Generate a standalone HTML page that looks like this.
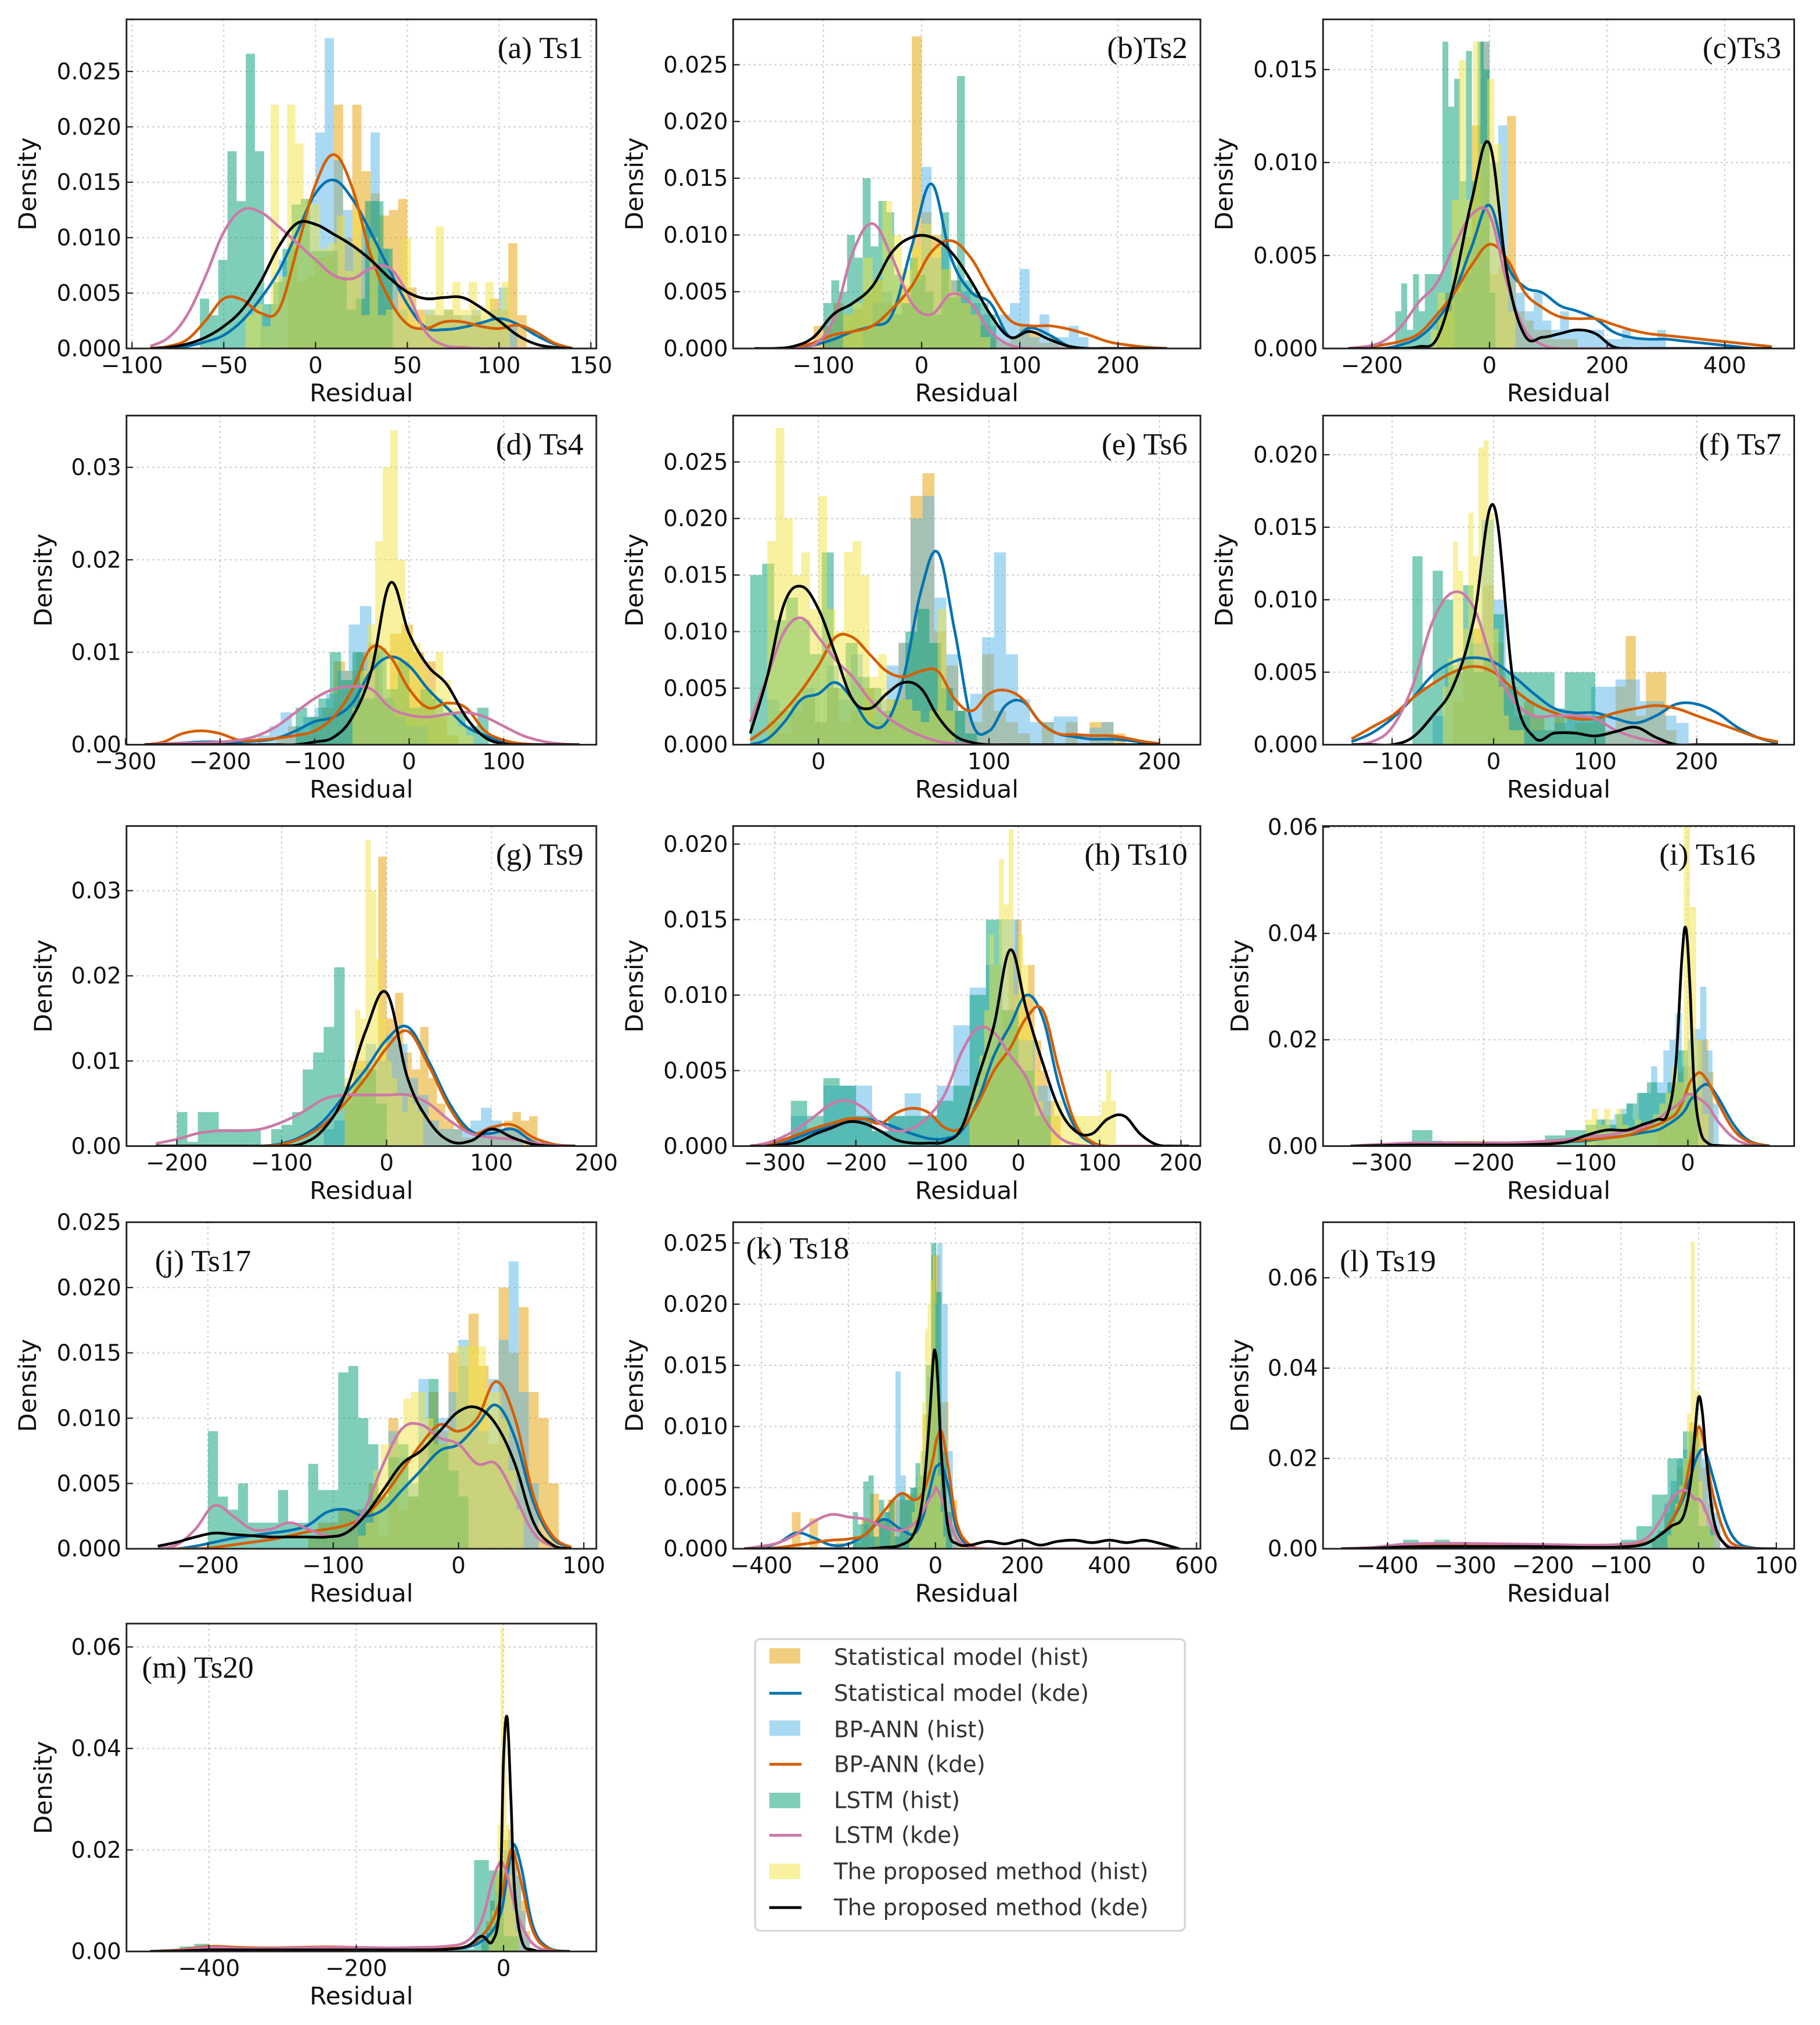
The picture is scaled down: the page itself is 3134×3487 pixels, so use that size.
<!DOCTYPE html>
<html><head><meta charset="utf-8"><title>Residual density distributions by time series</title>
<style>
html,body{margin:0;padding:0;background:#fff;}
svg{display:block;}
text{font-family:"DejaVu Sans","Liberation Sans",sans-serif;}
.ttl{font-family:"Liberation Serif",serif;}
</style></head>
<body>
<svg id="fig" xmlns="http://www.w3.org/2000/svg" width="3134" height="3487" viewBox="0 0 1410 1569" preserveAspectRatio="none">
<rect x="0" y="0" width="1410" height="1569" fill="#fff"/>
<g id="panels"></g>
<g id="legend">
  <rect x="585" y="1270" width="333" height="226" rx="4" fill="#fff" stroke="#d6d6d6" stroke-width="1.5"/>
  <g><rect x="596" y="1277" width="24" height="12" fill="#E69F00" fill-opacity="0.5"/><text x="646" y="1290" font-size="17.5" fill="#333">Statistical model (hist)</text></g>
  <g><line x1="596" x2="621" y1="1312" y2="1312" stroke="#0072B2" stroke-width="2.2"/><text x="646" y="1318" font-size="17.5" fill="#333">Statistical model (kde)</text></g>
  <g><rect x="596" y="1333" width="24" height="12" fill="#56B4E9" fill-opacity="0.5"/><text x="646" y="1346" font-size="17.5" fill="#333">BP-ANN (hist)</text></g>
  <g><line x1="596" x2="621" y1="1367" y2="1367" stroke="#D55E00" stroke-width="2.2"/><text x="646" y="1373" font-size="17.5" fill="#333">BP-ANN (kde)</text></g>
  <g><rect x="596" y="1389" width="24" height="12" fill="#009E73" fill-opacity="0.5"/><text x="646" y="1401" font-size="17.5" fill="#333">LSTM (hist)</text></g>
  <g><line x1="596" x2="621" y1="1422" y2="1422" stroke="#CC79A7" stroke-width="2.2"/><text x="646" y="1428" font-size="17.5" fill="#333">LSTM (kde)</text></g>
  <g><rect x="596" y="1444" width="24" height="12" fill="#F0E442" fill-opacity="0.5"/><text x="646" y="1456" font-size="17.5" fill="#333">The proposed method (hist)</text></g>
  <g><line x1="596" x2="621" y1="1478" y2="1478" stroke="#000" stroke-width="2.2"/><text x="646" y="1484" font-size="17.5" fill="#333">The proposed method (kde)</text></g>
</g>
</svg>
<script>
// ===== DATA (kde grids, kde values, histogram bins/heights) =====
// (a) Ts1
const a_kx=[-90,-80,-70,-60,-50,-40,-30,-20,-10,0,10,20,30,40,50,60,70,80,90,100,110,120,130,140];
const a_k_stat=[0,0,0.0002,0.0006,0.0012,0.0025,0.0045,0.007,0.0105,0.014,0.0152,0.0135,0.0105,0.0072,0.004,0.0019,0.0017,0.0019,0.0023,0.0027,0.0022,0.0012,0.0004,0];
const a_k_bp=[0,0.0002,0.0008,0.0025,0.0045,0.0044,0.0032,0.0035,0.009,0.0148,0.0175,0.0145,0.0085,0.0045,0.0022,0.0018,0.0024,0.0024,0.002,0.0018,0.0021,0.0015,0.0005,0];
const a_k_lstm=[0.0002,0.001,0.003,0.0065,0.0105,0.0125,0.0123,0.011,0.0095,0.008,0.0066,0.0063,0.0072,0.0073,0.005,0.0015,0.0003,0.0001,0,0,0,0,0,0];
const a_k_prop=[0,0.0001,0.0004,0.001,0.002,0.0035,0.006,0.0092,0.0113,0.0112,0.0103,0.0093,0.008,0.0064,0.0051,0.0045,0.0046,0.0046,0.0037,0.0025,0.0012,0.0004,0.0001,0];
const a_bins=[[-30,5],[-50,5],[-63,5],[-38,4.5]];
const a_h_stat=[0,0,0,0.0095,0.006,0.0065,0.0082,0.0085,0.022,0.01,0.022,0.016,0.014,0.012,0.0125,0.0135,0.0055,0.0035,0.003,0.003,0.0035,0.003,0.0025,0.003,0.0025,0.0045,0.0035,0.0095,0.003,0];
const a_h_bp=[0,0,0,0,0.003,0.004,0.008,0.009,0.0115,0.0135,0.0195,0.028,0.017,0.0125,0.009,0.011,0.0195,0.009,0.006,0.0035,0.002,0.002,0.0035,0.003,0.0035,0.003,0.003,0.0035,0.0025,0.0035,0.0055,0.002];
const a_h_lstm=[0.0045,0.003,0.008,0.0178,0.0133,0.0266,0.0178,0.004,0.006,0.009,0.013,0.0135,0.0088,0.0088,0.0088,0.0065,0.0035,0.0045,0.0133,0.0133,0.009,0];
const a_h_prop=[0.003,0.004,0.002,0.022,0.0065,0.022,0.0185,0.0135,0.013,0.009,0.0095,0.012,0.007,0.0125,0.003,0.01,0.003,0.0035,0.0035,0.01,0.0025,0.003,0.0035,0.011,0.0035,0.006,0.0035,0.006,0.0035,0.006,0.0035,0.006,0];
// (b) Ts2
const b_kx=[-170,-150,-130,-110,-90,-70,-50,-30,-10,10,30,50,70,90,110,130,150,170,190,210,230,250];
const b_k_stat=[0,0,0.0001,0.0003,0.0008,0.0015,0.002,0.003,0.009,0.0145,0.008,0.005,0.004,0.001,0.0018,0.0012,0.0002,0,0,0,0,0];
const b_k_bp=[0,0,0.0001,0.0005,0.0012,0.0015,0.002,0.0035,0.0055,0.0085,0.0095,0.008,0.005,0.0025,0.002,0.002,0.0017,0.0012,0.0006,0.0003,0.0001,0];
const b_k_lstm=[0,0,0,0.0003,0.0025,0.0085,0.011,0.008,0.004,0.003,0.0048,0.004,0.0015,0.0003,0,0,0,0,0,0,0,0];
const b_k_prop=[0,0,0.0002,0.001,0.003,0.004,0.0055,0.0085,0.0098,0.0098,0.0085,0.006,0.003,0.001,0.0015,0.0008,0.0002,0,0,0,0,0];
const b_bins=[[-110,10],[-60,10],[-100,8],[-80,10]];
const b_h_stat=[0.002,0.002,0.004,0.003,0.0035,0.005,0.006,0.004,0.003,0.0055,0.0275,0.012,0.01,0.007,0.006,0.004,0.003,0.002,0.001,0.0005,0.001,0.002,0.0015,0.0005,0.001];
const b_h_bp=[0.002,0.004,0.005,0.003,0.004,0.006,0.016,0.008,0.009,0.006,0.005,0.004,0.003,0.002,0.003,0.004,0.007,0.001,0.003,0.001,0.001,0.002,0.001];
const b_h_lstm=[0.004,0.006,0.005,0.01,0.008,0.015,0.009,0.013,0.012,0.0065,0.004,0.008,0.0065,0.005,0.003,0.012,0.0045,0.024,0.006,0.005,0.004,0.003];
const b_h_prop=[0.003,0.004,0.008,0.006,0.013,0.01,0.007,0.009,0.011,0.009,0.007,0.005,0.004,0.003,0.001];
// (c) Ts3
const c_kx=[-240,-210,-180,-150,-120,-90,-60,-30,0,30,60,90,120,150,180,210,240,270,300,330,360,390,420,450,480];
const c_k_stat=[0,0,0,0.0002,0.0006,0.0015,0.003,0.0055,0.0077,0.0045,0.0033,0.003,0.0023,0.002,0.0016,0.0009,0.0006,0.0005,0.0005,0.0004,0.0003,0.0002,0.0001,0,0];
const c_k_bp=[0,0.0001,0.0002,0.0004,0.0008,0.0018,0.003,0.0045,0.0056,0.0048,0.003,0.0022,0.0017,0.0016,0.0016,0.0013,0.001,0.0008,0.0007,0.0006,0.0005,0.0004,0.0003,0.0002,0.0001];
const c_k_lstm=[0,0.0001,0.0004,0.0012,0.0025,0.0035,0.0055,0.0072,0.0072,0.0035,0.001,0.0002,0,0,0,0,0,0,0,0,0,0,0,0,0];
const c_k_prop=[0,0,0,0,0.0001,0.0005,0.0035,0.008,0.011,0.004,0.0007,0.0006,0.0008,0.001,0.0008,0.0001,0,0,0,0,0,0,0,0,0];
const c_bins=[[-90,15],[-60,15],[-160,10],[-100,12]];
const c_h_stat=[0.002,0.003,0.004,0.006,0.012,0.0165,0.004,0.0045,0.0125,0.002,0.0015,0.001,0.001,0.0005,0.0005,0.0005];
const c_h_bp=[0.003,0.004,0.006,0.0165,0.01,0.012,0.004,0.003,0.002,0.003,0.0015,0.001,0.002,0.001,0.001,0.001,0.001,0.0005,0.0005,0.001,0.0005,0.0005,0.0005,0.001];
const c_h_lstm=[0.002,0.0035,0.001,0.004,0.002,0.004,0.004,0.004,0.0165,0.013,0.0145,0.009,0.016,0.009,0.0165,0.015,0.003];
const c_h_prop=[0.001,0.003,0.002,0.008,0.0155,0.008,0.0165,0.011,0.0145,0.011,0.005,0.002];
// (d) Ts4
const d_kx=[-280,-260,-240,-220,-200,-180,-160,-140,-120,-100,-80,-60,-40,-20,0,20,40,60,80,100,120,140,160,180];
const d_k_stat=[0,0,0.0002,0.0003,0.0003,0.0003,0.0004,0.0007,0.0015,0.0025,0.003,0.0045,0.008,0.0095,0.0085,0.006,0.004,0.002,0.001,0.0003,0.0001,0,0,0];
const d_k_bp=[0,0.0003,0.0012,0.0015,0.0012,0.0005,0.0005,0.0007,0.001,0.0015,0.003,0.006,0.0105,0.0095,0.006,0.004,0.0045,0.004,0.0015,0.0005,0.0001,0,0,0];
const d_k_lstm=[0,0.0001,0.0002,0.0002,0.0003,0.0005,0.001,0.002,0.0035,0.005,0.006,0.0063,0.006,0.004,0.0032,0.003,0.0033,0.0035,0.003,0.002,0.001,0.0004,0.0001,0];
const d_k_prop=[0,0,0,0,0,0,0,0,0,0.0003,0.0008,0.003,0.008,0.0175,0.012,0.0085,0.0065,0.003,0.0008,0.0001,0,0,0,0];
const d_bins=[[-140,12],[-160,12],[-120,12],[-60,8]];
const d_h_stat=[0.001,0.002,0.001,0.003,0.004,0.009,0.008,0.01,0.011,0.005,0.012,0.013,0.01,0.009,0.003,0.001,0];
const d_h_bp=[0.001,0.002,0.0035,0.002,0.003,0.004,0.0055,0.008,0.013,0.015,0.01,0.005,0.003,0.002,0.002];
const d_h_lstm=[0.004,0.003,0.005,0.01,0.007,0.01,0.005,0.0105,0.006,0.009,0.004,0.006,0.005,0.0035,0.0035,0.002,0.004];
const d_h_prop=[0.004,0.008,0.013,0.022,0.03,0.034,0.02,0.012,0.011,0.008,0.006,0.01,0.007,0.004,0.002,0.001];
// (e) Ts6
const e_kx=[-40,-30,-20,-10,0,10,20,30,40,50,60,70,80,90,100,110,120,130,140,150,160,170,180,190,200];
const e_k_stat=[0,0.0005,0.002,0.004,0.0045,0.0055,0.004,0.0018,0.002,0.006,0.0135,0.017,0.01,0.002,0.0012,0.0035,0.0038,0.002,0.001,0.0007,0.0005,0.0005,0.0004,0.0002,0];
const e_k_bp=[0.0004,0.0015,0.003,0.0048,0.007,0.0095,0.0095,0.008,0.0065,0.006,0.0065,0.0065,0.004,0.003,0.0045,0.0048,0.004,0.002,0.001,0.0009,0.0008,0.0008,0.0006,0.0003,0.0001];
const e_k_lstm=[0.002,0.006,0.01,0.0112,0.0095,0.0075,0.006,0.004,0.0025,0.0015,0.0008,0.0003,0.0001,0,0,0,0,0,0,0,0,0,0,0,0];
const e_k_prop=[0.001,0.006,0.0125,0.014,0.012,0.008,0.004,0.0032,0.0045,0.0055,0.005,0.0025,0.0008,0.0002,0,0,0,0,0,0,0,0,0,0,0];
const e_bins=[[-30,7],[-30,7],[-40,7],[-30,5]];
const e_h_stat=[0.002,0.001,0.003,0.004,0.002,0.005,0.002,0.003,0.005,0.002,0.004,0.009,0.022,0.024,0.01,0.007,0.003,0.002,0.008,0.003,0.002,0.001,0,0.002,0,0.002,0,0.002,0.002,0.001,0];
const e_h_bp=[0.004,0.003,0.004,0.005,0.002,0.007,0.004,0.008,0.002,0.004,0.007,0.009,0.02,0.022,0.013,0.008,0.003,0.0045,0.0095,0.017,0.008,0.004,0.002,0.002,0.0025,0.0025,0.001,0.0015,0.002];
const e_h_lstm=[0.015,0.016,0.011,0.013,0.011,0.008,0.017,0.005,0.009,0.006,0.005,0.003,0.004,0.01,0.012,0.009,0.005,0.003,0.001];
const e_h_prop=[0.018,0.028,0.02,0.015,0.017,0.012,0.022,0.012,0.01,0.017,0.018,0.015,0.006,0.008,0.004,0.004,0.004,0.003,0.002,0.003,0.012,0.003];
// (f) Ts7
const f_kx=[-140,-120,-100,-80,-60,-40,-20,0,20,40,60,80,100,120,140,160,180,200,220,240,260,280];
const f_k_stat=[0.0002,0.0008,0.0018,0.0032,0.0048,0.0057,0.006,0.0057,0.0047,0.0035,0.0025,0.0022,0.0022,0.0018,0.0015,0.002,0.0028,0.0028,0.0022,0.0012,0.0005,0.0001];
const f_k_bp=[0.0004,0.0012,0.002,0.0032,0.0042,0.005,0.0054,0.005,0.0038,0.0028,0.0022,0.0018,0.0018,0.0022,0.0025,0.0027,0.0025,0.002,0.0015,0.001,0.0005,0.0002];
const f_k_lstm=[0,0.0002,0.0012,0.004,0.0085,0.0105,0.0095,0.0055,0.003,0.002,0.002,0.002,0.0018,0.001,0.0005,0.0002,0,0,0,0,0,0];
const f_k_prop=[0,0,0,0.0005,0.002,0.004,0.0085,0.0165,0.004,0.0005,0.0008,0.0008,0.0006,0.0009,0.0012,0.0005,0,0,0,0,0,0];
const f_bins=[[-40,10],[-60,12],[-80,10],[-50,5]];
const f_h_stat=[0.003,0.006,0.008,0.011,0.007,0.004,0.002,0.003,0.002,0.001,0.002,0.001,0.0015,0.0015,0.002,0.001,0.004,0.0075,0.002,0.005,0.005,0.001];
const f_h_bp=[0.002,0.0055,0.006,0.007,0.0155,0.01,0.004,0.002,0.001,0.001,0.0015,0.002,0.002,0.004,0.004,0.0045,0.0045,0.003,0.003,0.002,0.0015];
const f_h_lstm=[0.013,0.004,0.012,0.01,0.005,0.011,0.005,0.006,0.009,0.005,0.005,0.005,0.005,0.005,0.0025,0.005,0.005,0.005,0.002];
const f_h_prop=[0.004,0.006,0.014,0.012,0.008,0.016,0.013,0.0205,0.021,0.016,0.008,0.004,0.002,0.001,0.001,0.001];
// (g) Ts9
const g_kx=[-220,-200,-180,-160,-140,-120,-100,-80,-60,-40,-20,0,20,40,60,80,100,120,140,160,180];
const g_k_stat=[0,0,0,0,0,0,0.0003,0.0012,0.003,0.006,0.009,0.0125,0.014,0.01,0.005,0.0018,0.0015,0.002,0.0005,0.0001,0];
const g_k_bp=[0,0,0,0,0,0,0.0002,0.001,0.0025,0.005,0.008,0.0115,0.0135,0.0095,0.0045,0.0015,0.0022,0.0025,0.001,0.0002,0];
const g_k_lstm=[0.0003,0.0008,0.0015,0.0018,0.0018,0.002,0.0028,0.004,0.0055,0.006,0.006,0.006,0.006,0.005,0.003,0.0015,0.001,0.0008,0.0004,0.0001,0];
const g_k_prop=[0,0,0,0,0,0,0,0.0003,0.002,0.006,0.0135,0.018,0.008,0.003,0.0006,0.0006,0.002,0.001,0.0002,0,0];
const g_bins=[[-40,8],[-60,10],[-200,10],[-40,5]];
const g_h_stat=[0.005,0.01,0.01,0.009,0.034,0.015,0.018,0.011,0.009,0.014,0.008,0.005,0.003,0.002,0.001,0.001,0.001,0.002,0.002,0.003,0.004,0.003,0.0035];
const g_h_bp=[0.002,0.003,0.006,0.009,0.012,0.01,0.013,0.012,0.008,0.006,0.003,0.002,0.002,0.002,0.003,0.0045,0.003,0.002,0.002];
const g_h_lstm=[0.004,0.0005,0.004,0.004,0.002,0.002,0.002,0.002,0,0.002,0.0025,0.004,0.009,0.011,0.014,0.021,0.007,0.008,0.009,0.005];
const g_h_prop=[0.008,0.01,0.016,0.015,0.036,0.03,0.022,0.015,0.01,0.008,0.006,0.004,0.006,0.005,0.004];
// (h) Ts10
const h_kx=[-330,-310,-290,-270,-250,-230,-210,-190,-170,-150,-130,-110,-90,-70,-50,-30,-10,10,30,50,70,90,110,130,150,170,190,210];
const h_k_stat=[0,0,0.0002,0.0006,0.001,0.0013,0.0016,0.0018,0.0016,0.0012,0.0008,0.0005,0.0005,0.001,0.003,0.006,0.008,0.01,0.0085,0.004,0.0012,0.0002,0,0,0,0,0,0];
const h_k_bp=[0,0.0001,0.0004,0.0008,0.0012,0.0015,0.0018,0.0018,0.0015,0.0022,0.0025,0.0022,0.0012,0.0012,0.0028,0.005,0.0065,0.0085,0.009,0.005,0.0015,0.0003,0,0,0,0,0,0];
const h_k_lstm=[0,0.0002,0.0006,0.0012,0.002,0.0028,0.003,0.0025,0.0015,0.001,0.0012,0.002,0.0035,0.0062,0.0078,0.0075,0.006,0.0045,0.002,0.0006,0.0001,0,0,0,0,0,0,0];
const h_k_prop=[0,0,0.0001,0.0003,0.0008,0.0012,0.0016,0.0015,0.001,0.0004,0.0002,0.0002,0.0003,0.0012,0.0045,0.008,0.013,0.009,0.0055,0.0025,0.001,0.0008,0.0018,0.002,0.0008,0.0001,0,0];
const h_bins=[[-60,8],[-280,20],[-280,20],[-60,6]];
const h_h_stat=[0.002,0.003,0.005,0.006,0.007,0.009,0.013,0.015,0.01,0.012,0.007,0.005,0.003,0.002];
const h_h_bp=[0.002,0.001,0.004,0.004,0.004,0.001,0.002,0.0035,0.002,0.004,0.008,0.0105,0.012,0.015,0.007,0.004];
const h_h_lstm=[0.003,0.002,0.0045,0.004,0.002,0.001,0.002,0.002,0.002,0.003,0.004,0.01,0.015,0.009,0.005,0.002];
const h_h_prop=[0.003,0.004,0.006,0.009,0.014,0.012,0.019,0.016,0.021,0.01,0.014,0.012,0.008,0.005,0.003,0.002,0.002,0.003,0.003,0.002,0.002,0.002,0.002,0.002,0.002,0.002,0.002,0.003,0.005,0.003];
// (i) Ts16
const i_kx=[-330,-300,-270,-240,-210,-180,-150,-120,-100,-80,-60,-45,-30,-20,-12,-6,-2,2,6,12,20,30,45,60,80];
const i_k_stat=[0,0.0003,0.0005,0.0006,0.0006,0.0006,0.0006,0.0008,0.001,0.0015,0.002,0.0025,0.003,0.004,0.005,0.006,0.007,0.0085,0.0095,0.011,0.0115,0.009,0.004,0.001,0];
const i_k_bp=[0,0.0003,0.0005,0.0006,0.0006,0.0006,0.0006,0.0008,0.0012,0.0015,0.002,0.003,0.004,0.005,0.006,0.008,0.01,0.012,0.013,0.0138,0.012,0.008,0.003,0.0008,0];
const i_k_lstm=[0,0.0003,0.0006,0.0006,0.0005,0.0006,0.0008,0.0012,0.0018,0.002,0.0028,0.0035,0.005,0.0065,0.0075,0.0085,0.0095,0.0098,0.0095,0.0088,0.0075,0.0045,0.0015,0.0003,0];
const i_k_prop=[0,0.0001,0.0002,0.0002,0.0002,0.0002,0.0003,0.0007,0.002,0.003,0.003,0.004,0.005,0.006,0.015,0.035,0.041,0.03,0.012,0.003,0.0005,0.0001,0,0,0];
const i_bins=[[-30,5],[-90,6],[-270,10],[-100,6]];
const i_h_stat=[0.003,0.005,0.008,0.012,0.014,0.01,0.015,0.01,0.02,0.02,0.014];
const i_h_bp=[0.004,0.005,0.005,0.006,0.007,0.008,0.005,0.01,0.01,0.015,0.012,0.018,0.02,0.025,0.015,0.02,0.022,0.03,0.018,0.008];
const i_h_lstm=[0.003,0.003,0.001,0,0,0,0,0,0,0,0,0.001,0.001,0.002,0.002,0.003,0.003,0.004,0.005,0.004,0.006,0.008,0.01,0.012,0.01,0.012,0.018,0.01];
const i_h_prop=[0.005,0.007,0.004,0.007,0.003,0.007,0.004,0.003,0.005,0.003,0.004,0.006,0.008,0.01,0.015,0.012,0.06,0.045,0.02,0.006];
// (j) Ts17
const j_kx=[-240,-225,-210,-195,-180,-165,-150,-135,-120,-105,-90,-75,-60,-45,-30,-15,0,15,30,45,60,75,90];
const j_k_stat=[0,0,0.0002,0.0005,0.0008,0.001,0.0012,0.0014,0.0018,0.0028,0.003,0.0025,0.003,0.0045,0.006,0.0075,0.008,0.0095,0.011,0.0085,0.0035,0.0008,0.0001];
const j_k_bp=[0,0,0,0.0001,0.0003,0.0005,0.0007,0.001,0.0013,0.0015,0.0018,0.0025,0.004,0.006,0.008,0.0095,0.009,0.01,0.0128,0.01,0.004,0.001,0.0001];
const j_k_lstm=[0,0.0003,0.0015,0.0033,0.0025,0.0015,0.0015,0.002,0.0015,0.001,0.0012,0.003,0.0065,0.0092,0.0095,0.0085,0.008,0.0065,0.0065,0.004,0.0012,0.0002,0];
const j_k_prop=[0.0002,0.0005,0.0009,0.0012,0.0011,0.001,0.0009,0.0009,0.0009,0.0009,0.0012,0.0025,0.0045,0.0065,0.0075,0.009,0.0105,0.0108,0.0095,0.0065,0.002,0.0003,0];
const j_bins=[[-120,8],[-80,8],[-200,8],[-80,6]];
const j_h_stat=[0.001,0.002,0.002,0.003,0.003,0.003,0.005,0.001,0.01,0.003,0.004,0.008,0.012,0.009,0.015,0.014,0.018,0.014,0.008,0.02,0.015,0.0185,0.012,0.01,0.005];
const j_h_bp=[0.003,0.0025,0.004,0.009,0.007,0.005,0.013,0.008,0.01,0.012,0.016,0.011,0.009,0.013,0.016,0.022,0.012,0.005];
const j_h_lstm=[0.009,0.004,0.003,0.005,0.002,0.002,0.002,0.0045,0.002,0.002,0.0065,0.0045,0.0045,0.0135,0.014,0.01,0.008,0.004,0.007,0.008,0.004,0.006,0.013,0.008,0.006,0.004];
const j_h_prop=[0.001,0.002,0.006,0.008,0.008,0.009,0.0115,0.012,0.012,0.01,0.008,0.008,0.009,0.0155,0.0155,0.0155,0.0155,0.012,0.012,0.01,0.006,0.003];
// (k) Ts18
const k_kx=[-440,-400,-360,-320,-280,-240,-200,-160,-120,-80,-50,-30,-15,-5,0,5,15,30,50,80,120,160,200,240,280,320,360,400,440,480,520,560];
const k_k_stat=[0,0.0001,0.0005,0.0013,0.0009,0.0003,0.0004,0.0012,0.0024,0.0016,0.0012,0.0025,0.0045,0.006,0.0066,0.0068,0.0068,0.005,0.0015,0.0002,0,0,0,0,0,0,0,0,0,0,0,0];
const k_k_bp=[0,0,0.0001,0.0003,0.0005,0.0007,0.0008,0.0012,0.003,0.0045,0.004,0.0045,0.006,0.0075,0.0085,0.0092,0.0095,0.0065,0.002,0.0003,0,0,0,0,0,0,0,0,0,0,0,0];
const k_k_lstm=[0,0.0002,0.0005,0.0012,0.0022,0.0028,0.0026,0.0024,0.0018,0.0015,0.002,0.003,0.004,0.0045,0.005,0.0048,0.004,0.0025,0.0008,0.0001,0,0,0,0,0,0,0,0,0,0,0,0];
const k_k_prop=[0,0,0,0,0,0,0,0,0.0001,0.0003,0.0012,0.004,0.01,0.0155,0.016,0.014,0.007,0.0015,0.0004,0.0003,0.0006,0.0004,0.0007,0.0003,0.0006,0.0007,0.0005,0.0007,0.0005,0.0007,0.0004,0];
const k_bins=[[-330,20],[-200,12],[-190,12],[-60,6]];
const k_h_stat=[0.003,0,0.0025,0,0,0.0005,0,0.0005,0.0025,0.0045,0.0025,0.004,0.004,0.0045,0.005,0.011,0.024,0.012,0.004,0.001];
const k_h_bp=[0,0.001,0.001,0.002,0.001,0,0.002,0.003,0,0.0145,0.006,0.004,0.005,0.006,0.008,0.014,0.02,0.025,0.02,0.008,0.002];
const k_h_lstm=[0.003,0.002,0.0055,0.006,0.001,0.004,0.003,0.004,0.001,0.0045,0.004,0.005,0.007,0.006,0.015,0.025,0.021,0.008,0.003];
const k_h_prop=[0.002,0.003,0.004,0.006,0.008,0.012,0.018,0.02,0.022,0.024,0.014,0.006,0.003,0.001];
// (l) Ts19
const l_kx=[-460,-420,-380,-340,-300,-260,-220,-180,-140,-100,-70,-50,-35,-20,-10,-5,0,5,10,20,35,50,70,100];
const l_k_stat=[0,0.0002,0.0007,0.0009,0.0009,0.0008,0.0008,0.0007,0.0005,0.0006,0.0012,0.003,0.006,0.011,0.016,0.019,0.021,0.022,0.021,0.015,0.006,0.0015,0.0002,0];
const l_k_bp=[0,0.0002,0.0006,0.0008,0.0008,0.0008,0.0008,0.0007,0.0005,0.0006,0.0012,0.003,0.006,0.012,0.02,0.024,0.027,0.025,0.02,0.011,0.003,0.0006,0.0001,0];
const l_k_lstm=[0,0.0003,0.001,0.0012,0.0012,0.0011,0.001,0.0009,0.0008,0.001,0.002,0.006,0.011,0.013,0.012,0.011,0.011,0.01,0.008,0.004,0.001,0.0002,0,0];
const l_k_prop=[0,0.0001,0.0004,0.0005,0.0005,0.0005,0.0005,0.0004,0.0003,0.0004,0.001,0.003,0.005,0.007,0.015,0.025,0.0335,0.03,0.02,0.006,0.0008,0.0001,0,0];
const l_bins=[[-60,8],[-60,8],[-380,20],[-40,5]];
const l_h_stat=[0.002,0.004,0.008,0.012,0.018,0.02,0.028,0.026,0.018,0.01,0.004];
const l_h_bp=[0.002,0.004,0.01,0.015,0.02,0.022,0.025,0.022,0.02,0.012,0.008];
const l_h_lstm=[0.002,0.001,0.002,0.001,0.001,0.001,0.001,0.001,0.001,0.001,0.001,0.001,0.0005,0.001,0.002,0.005,0.012,0.02,0.026,0.005];
const l_h_prop=[0.003,0.006,0.01,0.014,0.02,0.03,0.068,0.035,0.015,0.008,0.005,0.003];
// (m) Ts20
const m_kx=[-480,-440,-400,-360,-320,-280,-240,-200,-160,-120,-80,-50,-30,-15,-5,0,5,10,15,25,40,60,90];
const m_k_stat=[0,0.0003,0.0007,0.0005,0.0005,0.0006,0.0006,0.0006,0.0005,0.0006,0.0005,0.0008,0.002,0.004,0.007,0.01,0.015,0.019,0.021,0.016,0.005,0.0008,0];
const m_k_bp=[0,0.0003,0.001,0.0008,0.0007,0.0008,0.0009,0.0008,0.0007,0.0007,0.0006,0.001,0.003,0.006,0.01,0.013,0.017,0.02,0.019,0.013,0.004,0.0006,0];
const m_k_lstm=[0,0.0002,0.0008,0.0006,0.0006,0.0007,0.0008,0.0008,0.0007,0.0008,0.001,0.002,0.006,0.014,0.0175,0.017,0.015,0.012,0.009,0.005,0.0015,0.0002,0];
const m_k_prop=[0,0.0001,0.0003,0.0003,0.0003,0.0003,0.0003,0.0003,0.0003,0.0003,0.0004,0.001,0.003,0.002,0.01,0.038,0.046,0.03,0.012,0.002,0.0003,0,0];
const m_bins=[[-30,6],[-30,6],[-440,20],[-20,4]];
const m_h_stat=[0.003,0.006,0.01,0.015,0.018,0.022,0.024,0.02,0.015,0.01,0.004];
const m_h_bp=[0.002,0.005,0.01,0.012,0.016,0.02,0.022,0.02,0.015,0.008,0.003];
const m_h_lstm=[0.001,0.0015,0.0005,0.0005,0.0005,0.0005,0.0005,0.0005,0.0005,0.0005,0.0005,0.0005,0.0005,0.0005,0.0005,0.0005,0.0005,0.0005,0.0005,0.0005,0.018,0.016,0.003];
const m_h_prop=[0.004,0.008,0.015,0.025,0.064,0.045,0.025,0.015,0.008,0.004];

// tick label arrays
const yt3_025=["0.000","0.005","0.010","0.015","0.020","0.025"];
const yv_025=[0,0.005,0.01,0.015,0.02,0.025];
const yt3_020=["0.000","0.005","0.010","0.015","0.020"];
const yv_020=[0,0.005,0.01,0.015,0.02];
const yt3_015=["0.000","0.005","0.010","0.015"];
const yv_015=[0,0.005,0.01,0.015];
const yt2_03=["0.00","0.01","0.02","0.03"];
const yv_03=[0,0.01,0.02,0.03];
const yt2_06=["0.00","0.02","0.04","0.06"];
const yv_06=[0,0.02,0.04,0.06];

// ===== LAYOUT =====
const COLS=[[98,462],[568,930],[1025,1390]];
const ROWS=[[15,270],[322,577],[640,888],[947,1200],[1258,1512]];
const panels=[
 {id:'a',c:0,r:0,xl:[-103,153],yl:[0,0.0297],xv:[-100,-50,0,50,100,150],yv:yv_025,yt:yt3_025,title:'(a) Ts1',ta:'end'},
 {id:'b',c:1,r:0,xl:[-192,284],yl:[0,0.029],xv:[-100,0,100,200],yv:yv_025,yt:yt3_025,title:'(b)Ts2',ta:'end'},
 {id:'c',c:2,r:0,xl:[-283,518],yl:[0,0.0177],xv:[-200,0,200,400],yv:yv_015,yt:yt3_015,title:'(c)Ts3',ta:'end'},
 {id:'d',c:0,r:1,xl:[-299,198],yl:[0,0.0356],xv:[-300,-200,-100,0,100],yv:yv_03,yt:yt2_03,title:'(d) Ts4',ta:'end'},
 {id:'e',c:1,r:1,xl:[-50,224],yl:[0,0.0291],xv:[0,100,200],yv:yv_025,yt:yt3_025,title:'(e) Ts6',ta:'end'},
 {id:'f',c:2,r:1,xl:[-168,296],yl:[0,0.0227],xv:[-100,0,100,200],yv:yv_020,yt:yt3_020,title:'(f) Ts7',ta:'end'},
 {id:'g',c:0,r:2,xl:[-248,200],yl:[0,0.0376],xv:[-200,-100,0,100,200],yv:yv_03,yt:yt2_03,title:'(g) Ts9',ta:'end'},
 {id:'h',c:1,r:2,xl:[-351,224],yl:[0,0.0212],xv:[-300,-200,-100,0,100,200],yv:yv_020,yt:yt3_020,title:'(h) Ts10',ta:'end'},
 {id:'i',c:2,r:2,xl:[-357,104],yl:[0,0.0602],xv:[-300,-200,-100,0],yv:yv_06,yt:yt2_06,title:'(i) Ts16',ta:'end',tx:1360},
 {id:'j',c:0,r:3,xl:[-265,110],yl:[0,0.025],xv:[-200,-100,0,100],yv:yv_025,yt:yt3_025,title:'(j) Ts17',ta:'start',tx:120,ty:985},
 {id:'k',c:1,r:3,xl:[-465,609],yl:[0,0.0267],xv:[-400,-200,0,200,400,600],yv:yv_025,yt:yt3_025,title:'(k) Ts18',ta:'start',tx:578,ty:975},
 {id:'l',c:2,r:3,xl:[-483,123],yl:[0,0.0723],xv:[-400,-300,-200,-100,0,100],yv:yv_06,yt:yt2_06,title:'(l) Ts19',ta:'start',tx:1038,ty:985},
 {id:'m',c:0,r:4,xl:[-512,126],yl:[0,0.0646],xv:[-400,-200,0],yv:yv_06,yt:yt2_06,title:'(m) Ts20',ta:'start',tx:110,ty:1300}
];
const DATA={a:[a_kx,[a_k_stat,a_k_bp,a_k_lstm,a_k_prop],a_bins,[a_h_stat,a_h_bp,a_h_lstm,a_h_prop]],
 b:[b_kx,[b_k_stat,b_k_bp,b_k_lstm,b_k_prop],b_bins,[b_h_stat,b_h_bp,b_h_lstm,b_h_prop]],
 c:[c_kx,[c_k_stat,c_k_bp,c_k_lstm,c_k_prop],c_bins,[c_h_stat,c_h_bp,c_h_lstm,c_h_prop]],
 d:[d_kx,[d_k_stat,d_k_bp,d_k_lstm,d_k_prop],d_bins,[d_h_stat,d_h_bp,d_h_lstm,d_h_prop]],
 e:[e_kx,[e_k_stat,e_k_bp,e_k_lstm,e_k_prop],e_bins,[e_h_stat,e_h_bp,e_h_lstm,e_h_prop]],
 f:[f_kx,[f_k_stat,f_k_bp,f_k_lstm,f_k_prop],f_bins,[f_h_stat,f_h_bp,f_h_lstm,f_h_prop]],
 g:[g_kx,[g_k_stat,g_k_bp,g_k_lstm,g_k_prop],g_bins,[g_h_stat,g_h_bp,g_h_lstm,g_h_prop]],
 h:[h_kx,[h_k_stat,h_k_bp,h_k_lstm,h_k_prop],h_bins,[h_h_stat,h_h_bp,h_h_lstm,h_h_prop]],
 i:[i_kx,[i_k_stat,i_k_bp,i_k_lstm,i_k_prop],i_bins,[i_h_stat,i_h_bp,i_h_lstm,i_h_prop]],
 j:[j_kx,[j_k_stat,j_k_bp,j_k_lstm,j_k_prop],j_bins,[j_h_stat,j_h_bp,j_h_lstm,j_h_prop]],
 k:[k_kx,[k_k_stat,k_k_bp,k_k_lstm,k_k_prop],k_bins,[k_h_stat,k_h_bp,k_h_lstm,k_h_prop]],
 l:[l_kx,[l_k_stat,l_k_bp,l_k_lstm,l_k_prop],l_bins,[l_h_stat,l_h_bp,l_h_lstm,l_h_prop]],
 m:[m_kx,[m_k_stat,m_k_bp,m_k_lstm,m_k_prop],m_bins,[m_h_stat,m_h_bp,m_h_lstm,m_h_prop]]};
const HIST_COL=['#E69F00','#56B4E9','#009E73','#F0E442'];
const KDE_COL=['#0072B2','#D55E00','#CC79A7','#000000'];
const SER=['statistical','bpann','lstm','proposed'];
const NS='http://www.w3.org/2000/svg';
function mk(tag,attrs,parent){const e=document.createElementNS(NS,tag);for(const k in attrs)e.setAttribute(k,attrs[k]);if(parent)parent.appendChild(e);return e;}
function fmt(v){return v<0?'\u2212'+Math.abs(v):String(v);}
function smooth(pts){
  let d='M'+pts[0][0].toFixed(2)+','+pts[0][1].toFixed(2);
  for(let i=0;i<pts.length-1;i++){
    const p0=pts[Math.max(0,i-1)],p1=pts[i],p2=pts[i+1],p3=pts[Math.min(pts.length-1,i+2)];
    const t=0.18;
    const c1=[p1[0]+(p2[0]-p0[0])*t,p1[1]+(p2[1]-p0[1])*t];
    const c2=[p2[0]-(p3[0]-p1[0])*t,p2[1]-(p3[1]-p1[1])*t];
    d+='C'+c1[0].toFixed(2)+','+c1[1].toFixed(2)+' '+c2[0].toFixed(2)+','+c2[1].toFixed(2)+' '+p2[0].toFixed(2)+','+p2[1].toFixed(2);
  }
  return d;
}
const root=document.getElementById('panels');
panels.forEach(p=>{
  const [L,R]=COLS[p.c],[T,B]=ROWS[p.r];
  const sx=v=>L+(v-p.xl[0])/(p.xl[1]-p.xl[0])*(R-L);
  const sy=v=>B-(v-p.yl[0])/(p.yl[1]-p.yl[0])*(B-T);
  const g=mk('g',{},root);
  
  
  const cp=mk('clipPath',{id:'clip-'+p.id},g);
  mk('rect',{x:L,y:T,width:R-L,height:B-T},cp);
  const grid=mk('g',{stroke:'#c8c8c8','stroke-width':0.9,'stroke-dasharray':'1.5,2.5'},g);
  
  
  p.xv.forEach(v=>{const x=sx(v);if(x>=L&&x<=R)mk('line',{x1:x,x2:x,y1:T,y2:B},grid);});
  p.yv.forEach(v=>{const y=sy(v);if(y>=T&&y<=B)mk('line',{x1:L,x2:R,y1:y,y2:y},grid);});
  const [kx,kys,bins,hs]=DATA[p.id];
  const plot=mk('g',{'clip-path':'url(#clip-'+p.id+')'},g);
  hs.forEach((arr,si)=>{
    const hg=mk('g',{fill:HIST_COL[si],'fill-opacity':0.5},plot);
    
    
    const [st,w]=bins[si];
    arr.forEach((h,bi)=>{
      if(h<=0)return;
      const x0=sx(st+bi*w),x1=sx(st+(bi+1)*w),y=sy(h);
      const r=mk('rect',{x:x0,y:y,width:Math.max(0.5,x1-x0),height:B-y},hg);
      
      
    });
  });
  kys.forEach((arr,si)=>{
    const pts=[];const n=Math.min(kx.length,arr.length);
    for(let i=0;i<n;i++)pts.push([sx(kx[i]),sy(arr[i])]);
    const path=mk('path',{d:smooth(pts),fill:'none',stroke:KDE_COL[si],'stroke-width':2.1,'stroke-linejoin':'round'},plot);
    
    
  });
  const fr=mk('rect',{x:L,y:T,width:R-L,height:B-T,fill:'none',stroke:'#222','stroke-width':1.3},g);
  
  
  const xa=mk('g',{},g);
  
  
  p.xv.forEach(v=>{
    const x=sx(v);
    mk('line',{x1:x,x2:x,y1:B,y2:B-5,stroke:'#222','stroke-width':1},xa);
    const t=mk('text',{x:x,y:B+19,'font-size':17.5,'text-anchor':'middle',fill:'#111'},xa);
    t.textContent=fmt(v);
    
    
  });
  const xt=mk('text',{x:(L+R)/2,y:B+41,'font-size':19,'text-anchor':'middle',fill:'#111'},g);
  xt.textContent='Residual';
  
  
  const ya=mk('g',{},g);
  
  
  p.yv.forEach((v,i)=>{
    const y=sy(v);
    mk('line',{x1:L,x2:L+5,y1:y,y2:y,stroke:'#222','stroke-width':1},ya);
    const t=mk('text',{x:L-4,y:y+6,'font-size':17.5,'text-anchor':'end',fill:'#111'},ya);
    t.textContent=p.yt[i];
    
    
  });
  const dx=p.yt[0].length>4?L-70:L-58;
  const yt=mk('text',{x:dx,y:(T+B)/2,'font-size':19,'text-anchor':'middle',fill:'#111',transform:'rotate(-90 '+dx+' '+((T+B)/2)+')'},g);
  yt.textContent='Density';
  
  
  const tx=p.tx!==undefined?p.tx:R-10;
  const ty=p.ty!==undefined?p.ty:T+30;
  const tt=mk('text',{x:tx,y:ty,'font-size':24,'text-anchor':p.ta,fill:'#111',class:'ttl'},g);
  tt.textContent=p.title;
  
  
});
</script>
</body></html>
